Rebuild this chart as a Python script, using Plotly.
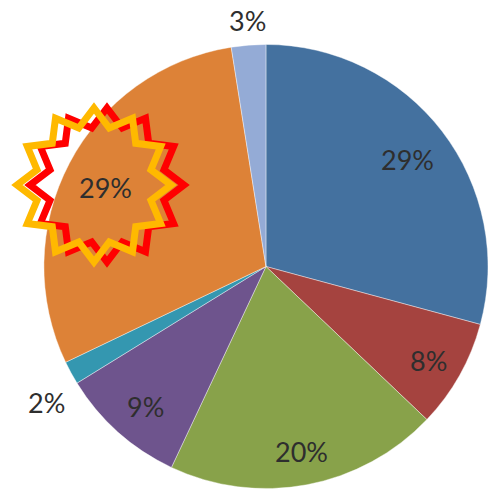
import math
import plotly.graph_objects as go

categories = ["A", "B", "C", "D", "E", "F", "G"]
values = [29.2, 7.9, 19.9, 9.2, 1.7, 29.6, 2.5]
value_labels = ["29%", "8%", "20%", "9%", "2%", "29%", "3%"]
colors = ["#44719F", "#A5433F", "#88A24A", "#6E548D", "#3497B0", "#DD8237", "#94ABD6"]
label_centres = [(407, 160), (428, 360), (301, 451), (145, 406), (46, 402), (105, 187), (247, 20)]

W, H = 488, 489


def star(cx, cy, outer=77, inner=59, points=12):
    parts = []
    for i in range(points * 2):
        r = outer if i % 2 == 0 else inner
        a = math.pi * i / points
        x = (cx + r * math.sin(a)) / W
        y = 1 - (cy - r * math.cos(a)) / H
        parts.append(("M" if i == 0 else "L") + f"{x:.5f} {y:.5f}")
    return " ".join(parts) + " Z"


fig = go.Figure(go.Pie(
    labels=categories,
    values=values,
    textinfo="none",
    sort=False,
    direction="clockwise",
    rotation=0,
    marker=dict(colors=colors, line=dict(color="rgba(255,255,255,0.4)", width=1)),
    domain=dict(x=[0.09, 1], y=[0, 0.91]),
    showlegend=False,
    hoverinfo="label+percent",
))
fig.update_layout(
    width=W,
    height=H,
    margin=dict(l=0, r=0, t=0, b=0),
    paper_bgcolor="white",
    shapes=[
        dict(type="path", xref="paper", yref="paper", path=star(107, 185),
             line=dict(color="#FF0000", width=7), fillcolor="rgba(0,0,0,0)"),
        dict(type="path", xref="paper", yref="paper", path=star(94, 185),
             line=dict(color="#FFB900", width=7), fillcolor="rgba(0,0,0,0)"),
    ],
    annotations=[
        dict(text=t, x=p[0] / W, y=1 - p[1] / H, xref="paper", yref="paper",
             xanchor="center", yanchor="middle", showarrow=False,
             font=dict(family="Lato", size=27, color="#2E2E2E"))
        for t, p in zip(value_labels, label_centres)
    ],
)
fig.write_html(
    "out.html",
    config={"displayModeBar": False},
    post_script="document.body.style.margin='0';document.body.style.overflow='hidden';",
)
